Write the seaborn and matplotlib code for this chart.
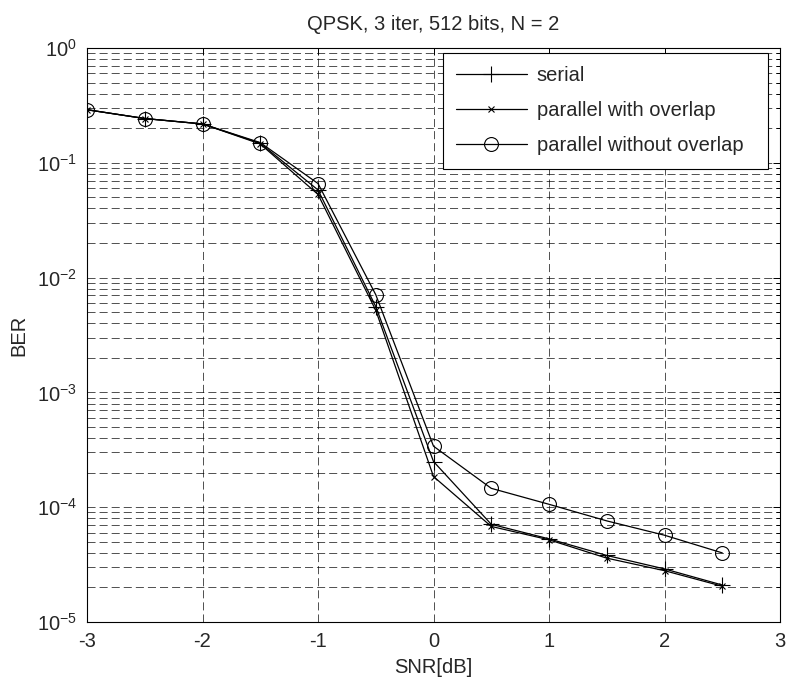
import numpy as np
import pandas as pd
import matplotlib
matplotlib.use("Agg")
import matplotlib.pyplot as plt
import seaborn as sns

# values
snr = [-3, -2.5, -2, -1.5, -1, -0.5, 0, 0.5, 1, 1.5, 2, 2.5]
ber_serial = [0.29, 0.243, 0.218, 0.148, 0.058, 0.0056, 2.5e-4, 7.1e-5, 5.3e-5, 3.8e-5, 2.9e-5, 2.1e-5]
ber_overlap = [0.29, 0.243, 0.218, 0.146, 0.053, 0.0052, 1.85e-4, 6.8e-5, 5.2e-5, 3.6e-5, 2.8e-5, 2.05e-5]
ber_no_overlap = [0.29, 0.243, 0.218, 0.150, 0.066, 0.0071, 3.4e-4, 1.46e-4, 1.06e-4, 7.6e-5, 5.7e-5, 4.0e-5]
labels = ["serial", "parallel with overlap", "parallel without overlap"]
title = "QPSK, 3 iter, 512 bits, N = 2"

sns.set_style("white")
plt.rcParams['font.family'] = ['Liberation Sans', 'DejaVu Sans']
plt.rcParams['mathtext.default'] = 'regular'
plt.rcParams['lines.scale_dashes'] = False
plt.rcParams['axes.unicode_minus'] = False
fs = 14.5

df = pd.DataFrame({"snr": snr * 3,
                   "ber": ber_serial + ber_overlap + ber_no_overlap,
                   "series": [labels[0]] * len(snr) + [labels[1]] * len(snr) + [labels[2]] * len(snr)})

fig = plt.figure(figsize=(7.87, 6.84), dpi=100)
ax = fig.add_axes([87 / 787, 62 / 684, 693 / 787, 574 / 684])

styles = {labels[0]: dict(marker='+', markersize=12),
          labels[1]: dict(marker='x', markersize=5),
          labels[2]: dict(marker='o', markersize=10, markerfacecolor='none')}
for name in labels:
    sub = df[df.series == name]
    sns.lineplot(data=sub, x="snr", y="ber", ax=ax, color='k', linewidth=0.9,
                 markeredgecolor='k', markeredgewidth=0.8, label=name, **styles[name])

ax.set_yscale('log')
ax.set_xlim(-3, 3)
ax.set_ylim(1e-5, 1)
ax.set_xticks(np.arange(-3, 3.5, 1))
ax.set_xticklabels(['-3', '-2', '-1', '0', '1', '2', '3'])

grid_kw = dict(color='k', linewidth=0.6, linestyle=(0, (5.8, 2.9)), alpha=0.8)
ax.grid(True, which='major', axis='x', **grid_kw)
ax.grid(True, which='both', axis='y', **grid_kw)
ax.set_axisbelow(True)

ax.tick_params(which='both', direction='in', top=True, right=True, labelsize=fs,
               color='k', width=0.7)
ax.tick_params(which='major', length=5)
ax.tick_params(which='minor', length=3)
ax.tick_params(axis='x', which='major', pad=7.5)
ax.tick_params(axis='y', which='major', pad=7)
for sp in ax.spines.values():
    sp.set_color('k')
    sp.set_linewidth(0.8)

ax.set_xlabel("SNR[dB]", fontsize=fs, labelpad=5)
ax.set_ylabel("BER", fontsize=fs, labelpad=6)
ax.set_title(title, fontsize=fs, pad=13)

leg = ax.legend(loc='upper right', bbox_to_anchor=(0.5137, 0.5, 0.469, 0.491), mode='expand',
                borderaxespad=0, fontsize=fs, handlelength=3.5, handletextpad=0.5,
                labelspacing=0.8, borderpad=0.65, fancybox=False, framealpha=1, edgecolor='k')
leg.get_frame().set_linewidth(0.8)

fig.savefig("out.png", dpi=100)
